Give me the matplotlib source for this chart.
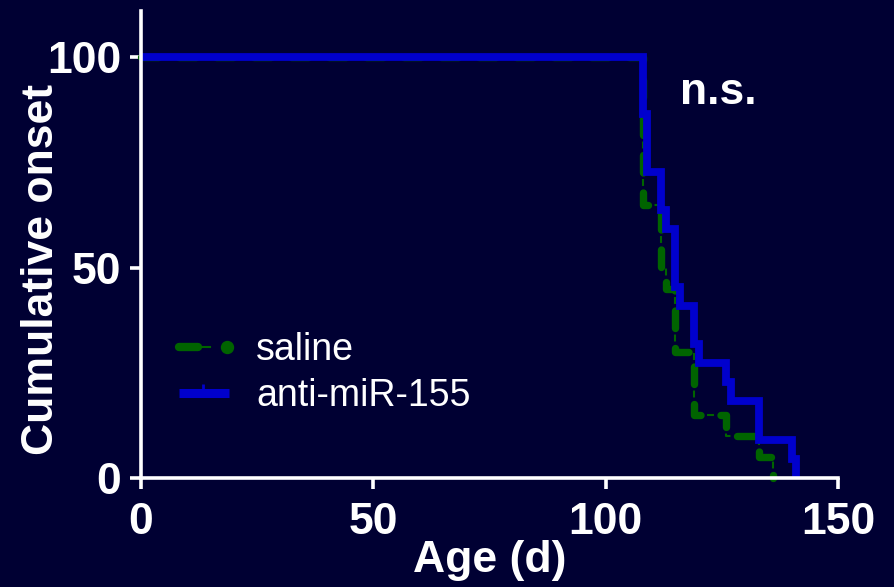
import matplotlib
matplotlib.use("Agg")
import matplotlib.pyplot as plt
from matplotlib.lines import Line2D
from matplotlib.legend_handler import HandlerBase

plt.rcParams['font.family'] = ['Liberation Sans', 'DejaVu Sans']
plt.rcParams['lines.scale_dashes'] = False

# Kaplan-Meier style cumulative onset (%) by age in days
saline_days = [0, 108, 112, 113, 115, 119, 126, 133, 136]
saline_onset = [100, 65, 50, 45, 30, 15, 10, 5, 0]

anti_days = [0, 108, 109, 112, 113, 115, 116, 119, 120, 126, 127, 133, 140, 141]
anti_onset = [100, 86.4, 72.7, 63.6, 59.1, 45.5, 40.9, 31.8, 27.3, 22.7, 18.2, 9.1, 4.5, 0]

series_labels = ["saline", "anti-miR-155"]
x_ticks = [0, 50, 100, 150]
y_ticks = [0, 50, 100]

BG = '#000033'
GREEN = '#006400'
BLUE = '#0000CD'
WHITE = '#FFFFFF'

fig = plt.figure(figsize=(8.94, 5.87), dpi=100, facecolor=BG)
ax = fig.add_axes([0.1572, 0.1857, 0.7802, 0.7956])
ax.set_facecolor(BG)

# saline: thick round-capped dashes with thin ticks in the gaps
ax.plot(saline_days, saline_onset, drawstyle='steps-post', color=GREEN, lw=5.3,
        linestyle=(0, (12.6, 14.4)), dash_capstyle='round', zorder=2, clip_on=False)
ax.plot(saline_days, saline_onset, drawstyle='steps-post', color=GREEN, lw=1.5,
        linestyle=(9.7, (5, 22)), zorder=2, clip_on=False)

# anti-miR-155: solid thick steps
ax.plot(anti_days, anti_onset, drawstyle='steps-post', color=BLUE, lw=5.6,
        solid_joinstyle='miter', solid_capstyle='butt', zorder=3)

ax.set_xlim(0, 150)
ax.set_ylim(0, 111)
ax.set_xticks(x_ticks)
ax.set_yticks(y_ticks)

for side in ('top', 'right'):
    ax.spines[side].set_visible(False)
for side in ('left', 'bottom'):
    ax.spines[side].set_color(WHITE)
    ax.spines[side].set_linewidth(2.6)
    ax.spines[side].set_zorder(4)

ax.tick_params(axis='both', colors=WHITE, direction='out', length=8, width=2.6,
               labelsize=32)
ax.tick_params(axis='x', pad=9)
ax.tick_params(axis='y', pad=6)
for lab in ax.get_xticklabels() + ax.get_yticklabels():
    lab.set_fontweight('bold')
    lab.set_color(WHITE)

ax.set_xlabel('Age (d)', fontsize=32, fontweight='bold', color=WHITE)
ax.xaxis.set_label_coords(0.5, -0.1325)
ax.set_ylabel('Cumulative onset', fontsize=32, fontweight='bold', color=WHITE)
ax.yaxis.set_label_coords(-0.1128, 0.4466)

ax.text(116.1, 88.8, 'n.s.', fontsize=32, fontweight='bold', color=WHITE,
        ha='left', va='baseline')


class SalineHandler(HandlerBase):
    def create_artists(self, legend, orig_handle, xdescent, ydescent,
                       width, height, fontsize, trans):
        y = height / 2 - ydescent
        x0 = -xdescent
        dash = Line2D([x0 + 0.074 * width, x0 + 0.426 * width], [y, y],
                      color=GREEN, lw=6, solid_capstyle='round', transform=trans)
        tick = Line2D([x0 + 0.426 * width, x0 + 0.648 * width], [y, y],
                      color=GREEN, lw=1.5, transform=trans)
        dot = Line2D([x0 + 0.963 * width], [y], marker='o', ms=8.6,
                     color=GREEN, mec=GREEN, ls='none', transform=trans)
        return [dash, tick, dot]


class AntiHandler(HandlerBase):
    def create_artists(self, legend, orig_handle, xdescent, ydescent,
                       width, height, fontsize, trans):
        y = height / 2 - ydescent
        x0 = -xdescent
        seg = Line2D([x0 + 0.074 * width, x0 + width], [y, y], color=BLUE,
                     lw=6.5, solid_capstyle='butt', transform=trans)
        tick = Line2D([x0 + 0.519 * width], [y], marker=2, ms=6.5, mew=2,
                      color=BLUE, ls='none', transform=trans)
        return [seg, tick]


h_sal = Line2D([], [], color=GREEN)
h_anti = Line2D([], [], color=BLUE)
leg = ax.legend([h_sal, h_anti], series_labels,
                handler_map={h_sal: SalineHandler(), h_anti: AntiHandler()},
                loc='upper left', bbox_to_anchor=(0.0488, 0.313),
                frameon=False, fontsize=27, handlelength=1.44,
                handletextpad=0.74, labelspacing=0.28, borderpad=0,
                borderaxespad=0)
for t in leg.get_texts():
    t.set_color(WHITE)

fig.savefig('out.png', dpi=100, facecolor=BG)
